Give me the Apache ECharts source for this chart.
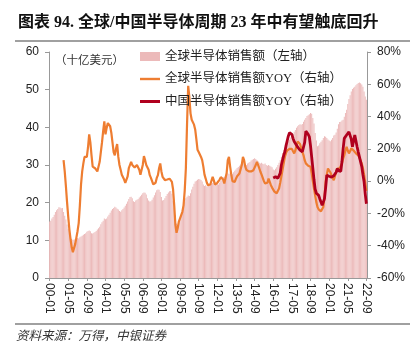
<!DOCTYPE html>
<html><head><meta charset="utf-8">
<script src="https://cdn.jsdelivr.net/npm/echarts@6/dist/echarts.min.js"></script>
<style>html,body{margin:0;padding:0;background:#fff}#c{width:419px;height:360px}</style>
</head><body><div id="c"></div>
<script>
// Global semiconductor sales, billion USD, monthly 2000-01 .. 2022-09
const sales = [
15.0,15.2,15.8,16.2,16.8,17.5,18.0,18.3,18.8,18.7,18.5,18.6,
17.5,16.5,15.5,14.2,13.0,12.0,11.0,10.4,10.1,10.2,10.3,10.5,
10.6,10.5,10.8,11.0,11.2,11.5,11.7,11.9,12.3,12.5,12.6,12.4,
11.9,11.8,12.0,12.2,12.5,12.9,13.2,13.6,14.3,14.8,15.2,15.8,
15.6,15.8,16.3,16.8,17.3,17.9,18.3,18.6,18.9,18.7,18.4,18.2,
17.8,17.6,18.0,18.3,18.7,19.2,19.7,20.3,21.0,21.5,21.6,21.2,
20.4,20.2,20.6,20.8,21.0,21.4,21.7,22.1,22.5,22.7,22.6,22.2,
21.2,20.6,20.3,20.4,20.8,21.4,22.0,22.7,23.3,23.5,23.4,22.8,
21.5,20.6,20.7,21.2,21.8,22.3,22.7,23.0,23.1,22.4,20.5,18.6,
16.8,14.5,14.1,14.6,15.8,16.8,17.8,19.0,20.3,21.2,21.6,21.9,
21.8,22.5,23.5,24.2,25.0,25.6,25.8,26.1,26.3,26.2,26.0,25.6,
24.8,24.4,24.6,24.3,24.4,24.9,25.1,25.0,25.2,25.5,25.3,25.0,
25.0,24.8,25.3,25.8,26.4,26.8,26.9,27.2,27.6,27.8,27.6,28.0,
27.2,27.6,28.1,28.5,28.8,29.2,29.5,29.8,30.2,30.6,30.8,30.5,
29.8,30.0,30.4,30.6,30.8,31.2,31.4,31.6,31.8,31.6,31.3,31.0,
30.6,30.4,30.6,30.3,30.2,30.4,30.0,29.8,30.0,29.8,29.6,29.4,
28.8,28.6,29.0,29.4,30.0,30.6,31.3,32.2,33.2,34.0,34.6,35.5,
36.0,36.3,36.8,37.3,37.8,38.3,38.8,39.3,39.9,40.3,40.6,40.8,
40.7,40.9,41.5,42.0,42.5,43.0,43.2,43.5,43.8,43.6,42.5,41.0,
38.5,36.5,35.0,35.2,35.8,36.2,36.6,37.2,37.6,37.5,37.2,36.8,
36.5,36.3,36.7,37.2,37.8,38.0,38.6,39.6,40.8,41.4,41.5,41.8,
42.0,42.8,43.8,44.7,46.2,47.5,48.5,49.5,50.2,50.5,50.8,51.2,
51.5,51.8,51.9,51.7,51.4,50.8,49.5,48.2,47.3
];
// Global sales YOY (%), monthly 2001-01 .. 2022-09
const globalYoyStart = 12;
const globalYoy = [
13,6,-3,-13,-22,-30,-36,-41,-44,-43,-39,-35,
-31,-26,-15,-2,6,11,15,16,15,21,29,24,
16,9,8,8,8,6,6,12,18,24,31,37,
29,33,36,35,34,30,24,18,16,20,23,15,
10,7,4,3,1,-1,-1,3,8,10,12,10,
9,8.5,9,10,9.5,7,4,4,10,15.5,13,10,
9.5,7,3.7,2,0,-2,-2.9,-1,2,3.7,8,11,
6,2.7,1.5,0.6,0.5,1,1.2,1.5,1.6,-0.5,-5,-15,
-27,-32,-29,-25,-23,-21,-19,-15,-6,8,35,59,
52,42,38,37,35,32,26,19.5,18,17,15,13,
9,4,1.6,-1,-2.5,-2.5,-2.1,-1,2.7,0.5,-2.1,-1.5,
-1,-0.5,1,2.5,3.7,1,-1.5,-2.5,5,13,15,9,
4,0,-0.5,-0.5,1.5,3,4,4.7,5,10,15,13,
9,7,6.5,6,5.8,6,6.5,6.8,8,10,12,10,
8,5.8,4,2,0,-1.5,-2.5,-1,1.6,0.6,-2.5,-4,
-5,-6.5,-7.7,-7.5,-6,-4.6,-1,3,7,11,15,17.5,
19,19.5,20,20.3,20,18.5,17.2,19,22,24.5,25.5,23,
20.5,18.2,16,13,11,9.9,9.5,9,8.9,5,0,-4.6,
-9,-13,-16,-17.5,-18.5,-18.7,-17.5,-16,-10,-0.4,4,7.8,
7.8,5.5,3.7,2,0.6,3,5.5,7.8,7.8,7.8,8,11,
14,16.1,19,21.3,19,17.2,18.5,20.3,20,19,18,17.2,
17.2,16,14.5,14.1,11,8,4,-1,-6
];
// China sales YOY (%), monthly 2016-01 .. 2022-09
const chinaYoyStart = 192;
const chinaYoy = [
2,1,2.7,2.5,1.8,1.6,5,10,13,16,18.2,22,
25,28,30,30.7,29,26.5,24.5,23.5,22.3,21,20.3,19.2,
18.5,18.2,18.2,24,31,30.7,29,27.5,22,15,8,1,
-5,-7.5,-8.5,-8.8,-11,-13,-15,-13,-10.8,-4,3.7,3.5,
3,2.7,2.5,3,3.3,3.3,5.5,7.8,6.5,5.8,6,12,
20,26.5,27.5,28.6,29.5,30.5,31,26,21.3,25,28.6,25,
21.3,18,15,14.1,9,4,-0.4,-8,-14
];
const seriesNames = ['全球半导体销售额（左轴）','全球半导体销售额YOY（右轴）','中国半导体销售额YOY（右轴）'];
const leftTicks = {min:0, max:60, interval:10};
const rightTicks = {min:-60, max:80, interval:20};

const categories = [];
for (let i = 0; i < sales.length; i++) {
  const yy = String(Math.floor(i/12)).padStart(2,'0');
  const mm = String(i%12+1).padStart(2,'0');
  categories.push(yy + '-' + mm);
}
function pad(arr, start) {
  const out = new Array(categories.length).fill(null);
  arr.forEach((v,i)=>{ out[start+i] = v; });
  return out;
}

const sansNarrow = "'Liberation Sans Narrow','Liberation Sans',Arial,sans-serif";
const serifCJK = "'Liberation Serif','Noto Sans CJK SC',serif";
const chart = echarts.init(document.getElementById('c'), null, {renderer:'canvas'});
chart.setOption({
  animation:false,
  backgroundColor:'#fff',
  grid:{left:49, right:52, top:52, bottom:82},
  legend:{
    orient:'vertical', left:140, top:50, padding:0, itemWidth:20, itemHeight:9, itemGap:9.5,
    symbolKeepAspect:true,
    textStyle:{fontSize:12.5, fontFamily:serifCJK, color:'#222', lineHeight:13},
    data:[
      {name:seriesNames[0], icon:'rect'},
      {name:seriesNames[1], icon:'path://M0,0H20V2.4H0Z'},
      {name:seriesNames[2], icon:'path://M0,0H20V3H0Z'}
    ]
  },
  xAxis:{
    type:'category', data:categories, boundaryGap:true,
    axisLine:{show:true, lineStyle:{color:'#999', width:1}},
    axisTick:{show:true, interval:15, alignWithLabel:true, length:3, lineStyle:{color:'#999'}},
    axisLabel:{interval:15, rotate:-90, fontSize:12, margin:5, color:'#222', fontFamily:sansNarrow}
  },
  yAxis:[
    {type:'value', min:leftTicks.min, max:leftTicks.max, interval:leftTicks.interval,
     axisLine:{show:true, lineStyle:{color:'#999'}},
     axisTick:{show:true, length:4, lineStyle:{color:'#999'}},
     splitLine:{show:false},
     axisLabel:{fontSize:12, margin:10, color:'#222', fontFamily:sansNarrow}},
    {type:'value', min:rightTicks.min, max:rightTicks.max, interval:rightTicks.interval, position:'right',
     axisLine:{show:true, lineStyle:{color:'#999'}},
     axisTick:{show:true, length:4, lineStyle:{color:'#999'}},
     splitLine:{show:false},
     axisLabel:{fontSize:12, margin:10, color:'#222', fontFamily:sansNarrow, formatter:'{value}%'}}
  ],
  series:[
    {name:seriesNames[0], type:'bar', yAxisIndex:0, data:sales, barCategoryGap:'25%',
     itemStyle:{color:'#ECBABA'}},
    {name:seriesNames[1], type:'line', yAxisIndex:1, data:pad(globalYoy, globalYoyStart),
     symbol:'none', showSymbol:false, lineStyle:{color:'#EE7D31', width:2.2}, itemStyle:{color:'#EE7D31'}},
    {name:seriesNames[2], type:'line', yAxisIndex:1, data:pad(chinaYoy, chinaYoyStart),
     symbol:'none', showSymbol:false, lineStyle:{color:'#B0001E', width:2.8}, itemStyle:{color:'#B0001E'}}
  ],
  graphic:[
    {type:'text', left:18, top:15, style:{text:'图表 94. 全球/中国半导体周期 23 年中有望触底回升',
      font:"bold 16px 'Liberation Serif','Noto Sans CJK SC',serif", fill:'#111'}},
    {type:'line', shape:{x1:15, y1:41, x2:410, y2:41}, style:{stroke:'#808080', lineWidth:1.5}},
    {type:'text', left:55, top:54, style:{text:'（十亿美元）', font:"11.5px 'Noto Sans CJK SC',sans-serif", fill:'#333'}},
    {type:'line', shape:{x1:15, y1:324, x2:410, y2:324}, style:{stroke:'#808080', lineWidth:1.5}},
    {type:'text', left:16, top:329, style:{text:'资料来源：万得，中银证券',
      font:"italic 12.5px 'Noto Sans CJK SC',sans-serif", fill:'#333'}}
  ]
});
</script></body></html>
